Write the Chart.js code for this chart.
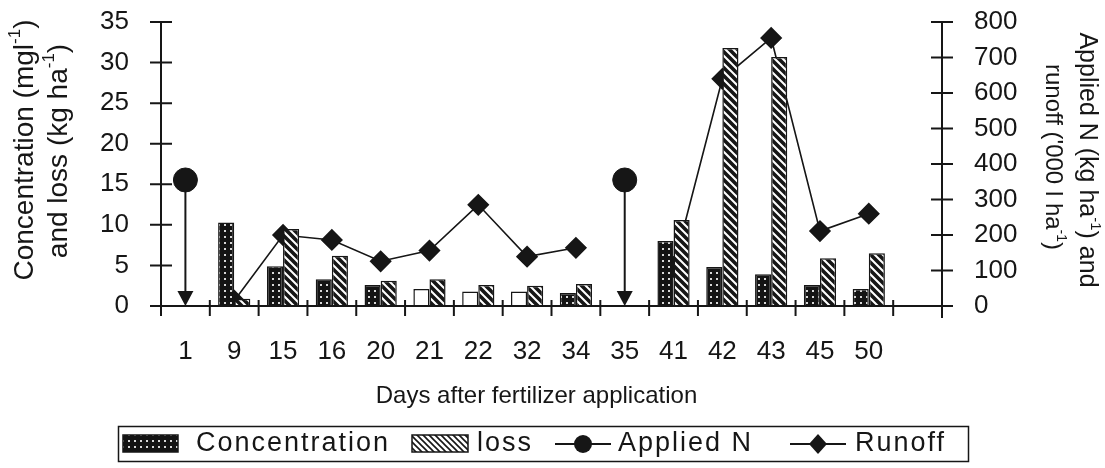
<!DOCTYPE html>
<html>
<head>
<meta charset="utf-8">
<script src="https://cdn.jsdelivr.net/npm/chart.js@4/dist/chart.umd.min.js"></script>
<style>
  html, body { margin: 0; padding: 0; background: #ffffff; }
  #wrap { width: 1105px; height: 468px; position: relative; }
</style>
</head>
<body>
<div id="wrap"><canvas id="c" width="1105" height="468"></canvas></div>
<script>
// Days after fertilizer application (last slot is an empty spacer on the axis)
const days = ['1', '9', '15', '16', '20', '21', '22', '32', '34', '35', '41', '42', '43', '45', '50', ''];

// Left axis: N concentration (mg l-1) and N loss (kg ha-1)
const concentration = [null, 10.3, 4.9, 3.3, 2.6, 2.1, 1.8, 1.8, 1.6, null, 8.0, 4.8, 3.9, 2.6, 2.1, null];
const loss          = [null, 0.9, 9.5, 6.2, 3.1, 3.3, 2.6, 2.5, 2.7, null, 10.6, 31.8, 30.7, 5.9, 6.5, null];

// Right axis: applied N (kg ha-1) and runoff ('000 l ha-1)
const appliedN = [355, null, null, null, null, null, null, null, null, 355, null, null, null, null, null, null];
const runoff   = [null, 15, 200, 186, 126, 156, 285, 139, 164, null, 110, 640, 755, 211, 260, null];

// Tick values
const leftTicks  = [0, 5, 10, 15, 20, 25, 30, 35];
const rightTicks = [0, 100, 200, 300, 400, 500, 600, 700, 800];

// Sampling rounds where the concentration bar is drawn unfilled
const hollowDays = ['21', '22', '32'];

const INK = '#161616';
const FONT = '"Liberation Sans", Arial, Helvetica, sans-serif';

// ---- fill patterns ----
function dottedPattern() {
  const t = document.createElement('canvas');
  t.width = 6; t.height = 6;
  const g = t.getContext('2d');
  g.fillStyle = '#141414';
  g.fillRect(0, 0, 6, 6);
  g.fillStyle = '#d8d8d8';
  g.fillRect(2, 2, 2, 2);
  return g.createPattern(t, 'repeat');
}
function hatchPattern(size, width) {
  const t = document.createElement('canvas');
  t.width = size; t.height = size;
  const g = t.getContext('2d');
  g.fillStyle = '#ffffff';
  g.fillRect(0, 0, size, size);
  g.strokeStyle = '#161616';
  g.lineWidth = width;
  g.lineCap = 'square';
  g.beginPath();
  for (let k = -1; k <= 1; k++) {
    g.moveTo(k * size - 1, -1);
    g.lineTo(k * size + size + 1, size + 1);
  }
  g.stroke();
  return g.createPattern(t, 'repeat');
}
const dotFill = dottedPattern();
const hatchFill = hatchPattern(8, 3.6);
const hatchLegend = hatchPattern(6, 1.6);

const concColors = days.map(d => hollowDays.includes(d) ? '#ffffff' : dotFill);

// ---- text with superscripts ----
function drawRich(ctx, parts, x, y, rot, size) {
  ctx.save();
  ctx.translate(x, y);
  ctx.rotate(rot);
  ctx.textBaseline = 'middle';
  ctx.textAlign = 'left';
  ctx.fillStyle = INK;
  let total = 0;
  const widths = parts.map(p => {
    ctx.font = (p.sup ? Math.round(size * 0.6) : size) + 'px ' + FONT;
    const w = ctx.measureText(p.t).width;
    total += w;
    return w;
  });
  let cx = -total / 2;
  parts.forEach((p, i) => {
    ctx.font = (p.sup ? Math.round(size * 0.6) : size) + 'px ' + FONT;
    ctx.fillText(p.t, cx, p.sup ? -size * 0.33 : 0);
    cx += widths[i];
  });
  ctx.restore();
}

// Axis lines with crossing tick marks
const axisFrame = {
  id: 'axisFrame',
  afterDatasetsDraw(chart) {
    const { ctx, chartArea: a, scales } = chart;
    ctx.save();
    ctx.strokeStyle = INK;
    ctx.lineWidth = 2;
    ctx.beginPath();
    // left axis
    ctx.moveTo(a.left, a.top - 1); ctx.lineTo(a.left, a.bottom + 10);
    leftTicks.forEach(v => {
      const y = scales.y.getPixelForValue(v);
      ctx.moveTo(a.left - 11, y); ctx.lineTo(a.left + 11, y);
    });
    // right axis
    ctx.moveTo(a.right, a.top - 1); ctx.lineTo(a.right, a.bottom + 12);
    rightTicks.forEach(v => {
      const y = scales.y2.getPixelForValue(v);
      ctx.moveTo(a.right - 11, y); ctx.lineTo(a.right + 11, y);
    });
    // category axis
    ctx.moveTo(a.left - 11, a.bottom); ctx.lineTo(a.right, a.bottom);
    const step = scales.x.width / days.length;
    for (let k = 1; k < days.length; k++) {
      const x = scales.x.left + k * step;
      ctx.moveTo(x, a.bottom - 6); ctx.lineTo(x, a.bottom + 10);
    }
    ctx.stroke();
    ctx.restore();
  }
};

// Applied-N drop arrows from each dose marker down to zero
const doseArrows = {
  id: 'doseArrows',
  beforeDatasetsDraw(chart) {
    const idx = chart.data.datasets.findIndex(d => d.label === 'Applied N');
    const meta = chart.getDatasetMeta(idx);
    const y0 = chart.scales.y2.getPixelForValue(0);
    const { ctx } = chart;
    ctx.save();
    ctx.strokeStyle = INK;
    ctx.fillStyle = INK;
    ctx.lineWidth = 2;
    meta.data.forEach((pt, i) => {
      if (appliedN[i] == null) return;
      const x = pt.x, y = pt.y;
      ctx.beginPath();
      ctx.moveTo(x, y);
      ctx.lineTo(x, y0 - 12);
      ctx.stroke();
      ctx.beginPath();
      ctx.moveTo(x - 8, y0 - 15);
      ctx.lineTo(x + 8, y0 - 15);
      ctx.lineTo(x, y0);
      ctx.closePath();
      ctx.fill();
    });
    ctx.restore();
  }
};

// Axis titles and the boxed legend
const annotations = {
  id: 'annotations',
  afterDraw(chart) {
    const { ctx } = chart;
    const a = chart.chartArea;
    // left title
    drawRich(ctx, [{ t: 'Concentration (mgl' }, { t: '-1', sup: true }, { t: ')' }], 25, 150, -Math.PI / 2, 28);
    drawRich(ctx, [{ t: 'and loss (kg ha' }, { t: '-1', sup: true }, { t: ')' }], 59, 151, -Math.PI / 2, 28);
    // right title
    drawRich(ctx, [{ t: 'Applied N (kg ha' }, { t: '-1', sup: true }, { t: ') and' }], 1087, 160, Math.PI / 2, 25);
    drawRich(ctx, [{ t: "runoff ('000 l ha" }, { t: '-1', sup: true }, { t: ')' }], 1053, 157, Math.PI / 2, 24);
    // x title
    ctx.save();
    ctx.fillStyle = INK;
    ctx.font = '24px ' + FONT;
    ctx.textAlign = 'center';
    ctx.textBaseline = 'middle';
    ctx.fillText('Days after fertilizer application', (a.left + 892) / 2 + 10, 396);
    ctx.restore();

    // legend box
    ctx.save();
    ctx.strokeStyle = INK;
    ctx.lineWidth = 1.5;
    ctx.strokeRect(118.5, 426.5, 850, 35);
    const cy = 444;
    // Concentration swatch
    ctx.fillStyle = dotFill;
    ctx.fillRect(123, 435, 55, 17);
    ctx.strokeRect(123, 435, 55, 17);
    // loss swatch
    ctx.fillStyle = hatchLegend;
    ctx.fillRect(412, 435, 56, 17);
    ctx.strokeRect(412, 435, 56, 17);
    // Applied N symbol
    ctx.lineWidth = 2;
    ctx.beginPath();
    ctx.moveTo(555, cy); ctx.lineTo(611, cy);
    ctx.moveTo(790, cy); ctx.lineTo(846, cy);
    ctx.stroke();
    ctx.fillStyle = INK;
    ctx.beginPath();
    ctx.arc(583, cy, 9, 0, Math.PI * 2);
    ctx.fill();
    // Runoff symbol
    ctx.beginPath();
    ctx.moveTo(818, cy - 10); ctx.lineTo(827, cy); ctx.lineTo(818, cy + 10); ctx.lineTo(809, cy);
    ctx.closePath();
    ctx.fill();
    // legend labels
    ctx.font = '27px ' + FONT;
    ctx.textAlign = 'left';
    ctx.textBaseline = 'middle';
    ctx.letterSpacing = '2px';
    ctx.fillText('Concentration', 196, cy);
    ctx.fillText('loss', 477, cy);
    ctx.fillText('Applied N', 618, cy);
    ctx.fillText('Runoff', 855, cy);
    ctx.restore();
  }
};

const tickFont = { family: FONT, size: 26 };

new Chart(document.getElementById('c'), {
  data: {
    labels: days,
    datasets: [
      {
        type: 'line', label: 'Applied N', data: appliedN, yAxisID: 'y2', order: 0,
        showLine: false, pointStyle: 'circle', pointRadius: 12,
        pointBackgroundColor: INK, pointBorderColor: INK, pointBorderWidth: 1
      },
      {
        type: 'bar', label: 'Concentration', data: concentration, yAxisID: 'y', order: 1,
        backgroundColor: concColors, borderColor: INK, borderWidth: 1.5,
        categoryPercentage: 0.66, barPercentage: 1.0
      },
      {
        type: 'bar', label: 'loss', data: loss, yAxisID: 'y', order: 2,
        backgroundColor: hatchFill, borderColor: INK, borderWidth: 1.5,
        categoryPercentage: 0.66, barPercentage: 1.0
      },
      {
        type: 'line', label: 'Runoff', data: runoff, yAxisID: 'y2', order: 3,
        borderColor: INK, borderWidth: 1.6, tension: 0, spanGaps: false,
        pointStyle: 'rectRot', pointRadius: 10,
        pointBackgroundColor: INK, pointBorderColor: INK
      }
    ]
  },
  options: {
    responsive: false,
    animation: false,
    devicePixelRatio: 1,
    layout: { padding: { top: 22, bottom: 0, left: 0, right: 0 } },
    plugins: { legend: { display: false }, tooltip: { enabled: false } },
    scales: {
      x: {
        type: 'category', offset: true,
        grid: { display: false }, border: { display: false },
        ticks: { font: tickFont, color: INK, padding: 22, maxRotation: 0, autoSkip: false },
        afterFit(s) { s.height = 162; s.paddingLeft = 0; s.paddingRight = 0; }
      },
      y: {
        position: 'left', min: 0, max: 35,
        grid: { display: false }, border: { display: false },
        ticks: { stepSize: 5, font: tickFont, color: INK, padding: 24 },
        afterFit(s) { s.width = 161; s.paddingTop = 0; s.paddingBottom = 0; }
      },
      y2: {
        position: 'right', min: 0, max: 800,
        grid: { display: false }, border: { display: false },
        ticks: { stepSize: 100, font: tickFont, color: INK, padding: 24 },
        afterFit(s) { s.width = 163; s.paddingTop = 0; s.paddingBottom = 0; }
      }
    }
  },
  plugins: [axisFrame, doseArrows, annotations]
});
</script>
</body>
</html>
